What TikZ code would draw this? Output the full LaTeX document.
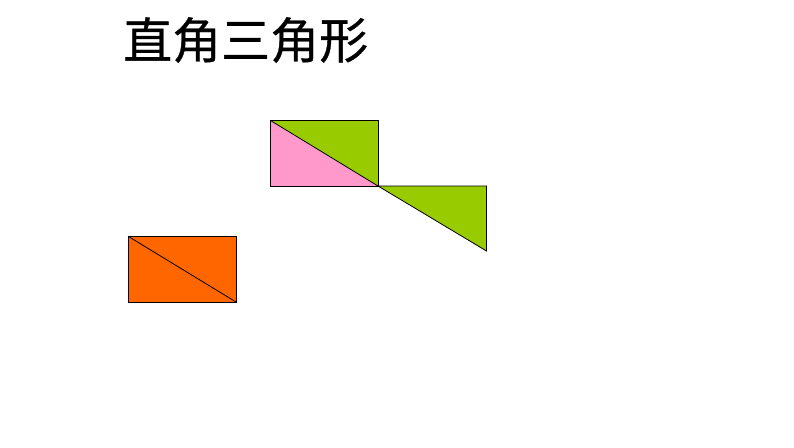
\documentclass[tikz,border=0pt]{standalone}
\usepackage{fontspec}
\newfontfamily\cjk[FakeBold=0.6]{Noto Sans CJK SC}
\definecolor{lgreen}{RGB}{153,204,0}
\definecolor{lpink}{RGB}{255,153,204}
\definecolor{lorange}{RGB}{255,102,0}
\begin{document}
\begin{tikzpicture}[x=1pt,y=-1pt,
  shapeline/.style={draw=black,line width=0.8pt,line join=miter}]
\useasboundingbox[fill=white] (0,0) rectangle (794,447);
\node[anchor=west,inner sep=0pt,font=\cjk\fontsize{49}{49}\selectfont] (title) at (123,40) {直角三角形};
% top rectangle split into two triangles
\coordinate (A) at (270.5,120.5);
\coordinate (B) at (378,120.5);
\coordinate (C) at (378,186);
\coordinate (D) at (270.5,186);
\coordinate (E) at (486.5,186);
\coordinate (F) at (486.5,251);
\fill[lpink] (A) -- (C) -- (D) -- cycle;
\fill[lgreen] (A) -- (B) -- (C) -- cycle;
\fill[lgreen] (C) -- (E) -- (F) -- cycle;
\draw[shapeline] (A) -- (B) -- (C) -- (D) -- cycle;
\draw[shapeline] (A) -- (C);
\draw[shapeline] (C) -- (E) -- (F) -- cycle;
% orange rectangle
\coordinate (P) at (128.5,236.5);
\coordinate (Q) at (236,236.5);
\coordinate (R) at (236,302);
\coordinate (S) at (128.5,302);
\fill[lorange] (P) rectangle (R);
\draw[shapeline] (P) -- (Q) -- (R) -- (S) -- cycle;
\draw[shapeline] (P) -- (R);
\end{tikzpicture}
\end{document}
